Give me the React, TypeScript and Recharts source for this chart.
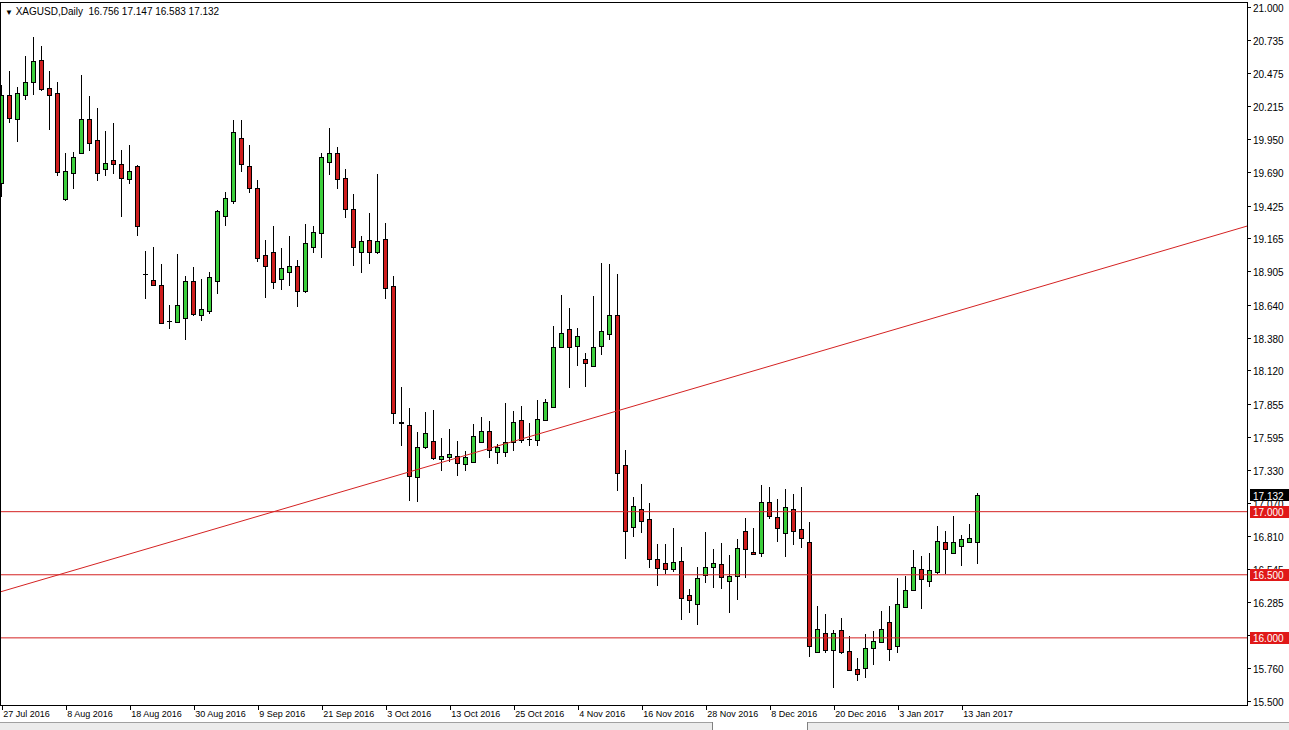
import React from 'react'
import { ComposedChart, Bar, XAxis, YAxis, ReferenceLine } from 'recharts'

// XAGUSD daily, 27 Jul 2016 .. 17 Jan 2017 (one entry per bar)
const openPrices = [
  19.602, 20.302, 20.109, 20.299, 20.402, 20.579, 20.355, 20.32, 19.475, 19.687,
  19.84, 20.112, 19.945, 19.713, 19.784, 19.753, 19.634, 19.742, 18.884, 18.836,
  18.794, 18.514, 18.501, 18.533, 18.831, 18.556, 18.593, 18.831, 19.346, 19.459,
  19.958, 19.739, 19.562, 19.034, 19.055, 18.841, 18.902, 18.947, 18.751, 19.1,
  19.206, 19.774, 19.842, 19.642, 19.396, 19.061, 19.15, 19.055, 19.158, 18.789,
  17.714, 17.684, 17.272, 17.51, 17.563, 17.415, 17.436, 17.442, 17.376, 17.391,
  17.555, 17.64, 17.476, 17.471, 17.555, 17.724, 17.576, 17.566, 17.727, 17.827,
  18.308, 18.445, 18.316, 18.21, 18.157, 18.316, 18.406, 18.559, 17.37, 16.882,
  17.024, 16.942, 16.623, 16.59, 16.543, 16.609, 16.337, 16.268, 16.495, 16.564,
  16.582, 16.453, 16.49, 16.847, 16.678, 16.67, 17.079, 16.96, 16.828, 17.018,
  16.86, 16.757, 15.89, 16.036, 15.904, 16.062, 15.896, 15.753, 15.758, 15.917,
  15.97, 16.123, 15.938, 16.242, 16.379, 16.546, 16.45, 16.519, 16.757, 16.675,
  16.728, 16.762, 16.756,
]
const highPrices = [
  20.381, 20.492, 20.368, 20.611, 20.759, 20.693, 20.492, 20.408, 19.84, 19.848,
  20.46, 20.294, 20.196, 20.019, 20.077, 19.866, 19.906, 19.747, 19.068, 19.1,
  18.96, 18.638, 19.042, 18.868, 18.937, 18.842, 18.902, 19.391, 19.536, 20.104,
  20.104, 19.906, 19.628, 19.153, 19.264, 19.092, 19.185, 18.994, 19.28, 19.264,
  19.84, 20.038, 19.89, 19.716, 19.515, 19.185, 19.364, 19.676, 19.285, 18.87,
  17.986, 17.819, 17.629, 17.788, 17.806, 17.587, 17.655, 17.56, 17.484, 17.695,
  17.753, 17.719, 17.534, 17.859, 17.798, 17.838, 17.701, 17.885, 17.893, 18.472,
  18.717, 18.612, 18.453, 18.255, 18.71, 18.974, 18.963, 18.884, 17.489, 17.114,
  17.217, 17.067, 16.744, 16.744, 16.868, 16.717, 16.387, 16.559, 16.836, 16.701,
  16.749, 16.656, 16.781, 16.947, 16.868, 17.211, 17.193, 17.098, 17.177, 17.14,
  17.193, 16.921, 16.252, 16.189, 16.062, 16.16, 16.017, 15.838, 16.03, 16.054,
  16.213, 16.252, 16.477, 16.49, 16.696, 16.649, 16.675, 16.889, 16.847, 16.968,
  16.815, 16.902, 17.147,
]
const lowPrices = [
  19.496, 20.077, 19.932, 20.262, 20.302, 20.334, 20.025, 19.663, 19.465, 19.557,
  19.834, 19.861, 19.623, 19.663, 19.676, 19.338, 19.594, 19.187, 18.683, 18.788,
  18.485, 18.448, 18.498, 18.361, 18.554, 18.514, 18.564, 18.722, 19.266, 19.436,
  19.694, 19.523, 18.981, 18.691, 18.762, 18.757, 18.791, 18.625, 18.73, 19.053,
  19.008, 19.668, 19.555, 19.325, 18.95, 18.889, 18.96, 19.04, 18.683, 17.692,
  17.523, 17.088, 17.074, 17.5, 17.41, 17.325, 17.397, 17.286, 17.325, 17.389,
  17.547, 17.428, 17.376, 17.436, 17.484, 17.547, 17.524, 17.524, 17.722, 17.825,
  18.305, 17.978, 18.157, 17.986, 18.15, 18.242, 18.361, 17.167, 16.623, 16.803,
  16.834, 16.557, 16.414, 16.503, 16.519, 16.141, 16.194, 16.102, 16.432, 16.398,
  16.387, 16.2, 16.3, 16.472, 16.659, 16.638, 16.939, 16.762, 16.643, 16.736,
  16.715, 15.851, 15.883, 15.877, 15.605, 15.872, 15.737, 15.658, 15.685, 15.785,
  15.957, 15.819, 15.883, 16.237, 16.374, 16.226, 16.4, 16.506, 16.506, 16.67,
  16.569, 16.754, 16.583,
]
const closePrices = [
  20.302, 20.117, 20.315, 20.408, 20.571, 20.349, 20.299, 19.694, 19.7, 19.811,
  20.112, 19.919, 19.687, 19.76, 19.758, 19.647, 19.7, 19.267, 18.884, 18.799,
  18.493, 18.514, 18.638, 18.831, 18.564, 18.604, 18.857, 19.383, 19.483, 20.006,
  19.752, 19.568, 19.008, 18.947, 18.817, 18.928, 18.947, 18.751, 19.126, 19.214,
  19.813, 19.84, 19.635, 19.396, 19.1, 19.145, 19.061, 19.145, 18.77, 17.78,
  17.7, 17.283, 17.51, 17.626, 17.423, 17.442, 17.455, 17.383, 17.431, 17.6,
  17.64, 17.489, 17.516, 17.555, 17.714, 17.568, 17.576, 17.732, 17.867, 18.303,
  18.414, 18.308, 18.393, 18.176, 18.308, 18.432, 18.559, 17.304, 16.85, 17.046,
  16.929, 16.623, 16.557, 16.548, 16.598, 16.313, 16.3, 16.472, 16.564, 16.59,
  16.48, 16.49, 16.709, 16.701, 16.662, 17.079, 16.966, 16.868, 17.034, 16.849,
  16.789, 15.938, 16.067, 15.904, 16.036, 15.89, 15.745, 15.711, 15.917, 15.978,
  16.067, 15.909, 16.266, 16.379, 16.559, 16.464, 16.538, 16.767, 16.701, 16.757,
  16.781, 16.79, 17.132,
]

const dateTickIdx = [0, 8, 16, 24, 32, 40, 48, 56, 64, 72, 80, 88, 96, 104, 112, 120]
const dateTickLabels = [
  '27 Jul 2016', '8 Aug 2016', '18 Aug 2016', '30 Aug 2016', '9 Sep 2016',
  '21 Sep 2016', '3 Oct 2016', '13 Oct 2016', '25 Oct 2016', '4 Nov 2016',
  '16 Nov 2016', '28 Nov 2016', '8 Dec 2016', '20 Dec 2016', '3 Jan 2017', '13 Jan 2017',
]
const priceTicks = [
  21.0, 20.735, 20.475, 20.215, 19.95, 19.69, 19.425, 19.165, 18.905, 18.64, 18.38,
  18.12, 17.855, 17.595, 17.33, 17.07, 16.81, 16.545, 16.285, 16.02, 15.76, 15.5,
]
const levelLines = [17.0, 16.5, 16.0]
const lastPrice = 17.132
// price tags on the right scale: last price + the three levels
const badgeValues = [lastPrice, 17.0, 16.5, 16.0]
const badgeColors = ['#000', '#e01818', '#e01818', '#e01818']
const trendIdx = [-0.1625, 155.5875]
const trendPrice = [16.366, 19.263]
const priceDomain = [15.468, 21.031]

const data = openPrices.map((o, i) => ({
  i,
  o,
  h: highPrices[i],
  l: lowPrices[i],
  c: closePrices[i],
}))

const FONT = '"Liberation Sans", Arial, sans-serif'
const UP = '#3ccf3c'
const DOWN = '#cf1d1d'
const LINE_RED = '#d42222'

const Candle = (props: any) => {
  const { x, y, width, height, payload } = props
  if (x == null || y == null) return null
  const { o, h, l, c } = payload
  const top = Math.min(y, y + height)
  const span = Math.abs(height)
  const py = (v: number) => Math.round(top + ((h - v) / (h - l)) * span)
  const col = Math.floor(x + width / 2)
  const wx = col + 0.5
  const yH = py(h)
  const yL = py(l)
  const yO = py(o)
  const yC = py(c)
  const bTop = Math.min(yO, yC)
  const bBot = Math.max(yO, yC)
  if (bBot - bTop < 1) {
    return (
      <g>
        <line x1={wx} x2={wx} y1={yH} y2={yL} stroke="#000" />
        <line x1={col - 2} x2={col + 3} y1={bTop + 0.5} y2={bTop + 0.5} stroke="#000" />
      </g>
    )
  }
  return (
    <g>
      <line x1={wx} x2={wx} y1={yH} y2={yL} stroke="#000" />
      <rect
        x={col - 1.5}
        y={bTop + 0.5}
        width={4}
        height={bBot - bTop}
        fill={c >= o ? UP : DOWN}
        stroke="#000"
        strokeWidth={1}
      />
    </g>
  )
}

// the tags come last in the tick list, so they are drawn over the plain labels
const PriceTick = (props: any) => {
  const { x, y, payload } = props
  const k = badgeValues.indexOf(payload.value)
  if (k >= 0) {
    return (
      <g>
        <rect x={x + 3} y={Math.round(y) - 6} width={40} height={12} fill={badgeColors[k]} />
        <text x={x + 6} y={y + 4.5} fontSize={10} fontFamily={FONT} fill="#fff">
          {badgeValues[k].toFixed(3)}
        </text>
      </g>
    )
  }
  const yy = Math.round(y) + 0.5
  return (
    <g>
      <line x1={x} x2={x + 4} y1={yy} y2={yy} stroke="#000" />
      <text x={x + 6} y={y + 5} fontSize={10} fontFamily={FONT} fill="#000">
        {Number(payload.value).toFixed(3)}
      </text>
    </g>
  )
}

const DateTick = (props: any) => {
  const { x, y, payload } = props
  const k = dateTickIdx.indexOf(payload.value)
  const xx = Math.floor(x) + 0.5
  return (
    <g>
      <line x1={xx} x2={xx} y1={y} y2={y + 5} stroke="#000" />
      <text x={x + 1} y={y + 12} fontSize={9} fontFamily={FONT} fill="#000">
        {k >= 0 ? dateTickLabels[k] : ''}
      </text>
    </g>
  )
}

const App: React.FC = () => {
  return (
    <div
      style={{
        position: 'absolute',
        left: 0,
        top: 0,
        width: 1289,
        height: 730,
        background: '#fff',
        overflow: 'hidden',
      }}
    >
      <ComposedChart
        width={1289}
        height={722}
        data={data}
        margin={{ top: 3, right: 0, bottom: 0, left: 1 }}
      >
        <XAxis
          type="number"
          dataKey="i"
          domain={[trendIdx[0], trendIdx[1]]}
          allowDataOverflow
          ticks={dateTickIdx}
          interval={0}
          tick={<DateTick />}
          tickSize={0}
          tickMargin={0}
          axisLine={false}
          tickLine={false}
          height={17}
        />
        <YAxis
          type="number"
          orientation="right"
          domain={priceDomain}
          allowDataOverflow
          ticks={[...priceTicks, ...badgeValues]}
          interval={0}
          tick={<PriceTick />}
          tickSize={0}
          tickMargin={0}
          axisLine={false}
          tickLine={false}
          width={42}
        />
        <Bar
          dataKey={(d: any) => [d.l, d.h]}
          barSize={5}
          shape={(p: any) => <Candle {...p} />}
          isAnimationActive={false}
        />
        {levelLines.map((v) => (
          <ReferenceLine key={v} y={v} stroke={LINE_RED} strokeWidth={1} />
        ))}
        <ReferenceLine
          segment={[
            { x: trendIdx[0], y: trendPrice[0] },
            { x: trendIdx[1], y: trendPrice[1] },
          ]}
          stroke={LINE_RED}
          strokeWidth={1}
          ifOverflow="hidden"
        />
      </ComposedChart>
      <div
        style={{
          position: 'absolute',
          left: 0,
          top: 2,
          width: 1248,
          height: 704,
          boxSizing: 'border-box',
          border: '1px solid #000',
          pointerEvents: 'none',
        }}
      />
      <div
        style={{
          position: 'absolute',
          left: 5,
          top: 6,
          fontFamily: FONT,
          fontSize: 10,
          lineHeight: '11px',
          color: '#000',
          whiteSpace: 'pre',
        }}
      >
        <span style={{ fontSize: 8, verticalAlign: 'middle' }}>▼</span>
        {' XAGUSD,Daily  16.756 17.147 16.583 17.132'}
      </div>
      <div
        style={{
          position: 'absolute',
          left: 0,
          top: 722,
          width: 1289,
          height: 8,
          background: '#ececec',
          borderTop: '1px solid #a0a0a0',
        }}
      />
      <div
        style={{
          position: 'absolute',
          left: 712,
          top: 722,
          width: 94,
          height: 8,
          background: '#fff',
          borderLeft: '1px solid #808080',
          borderRight: '1px solid #808080',
        }}
      />
    </div>
  )
}

export default App
